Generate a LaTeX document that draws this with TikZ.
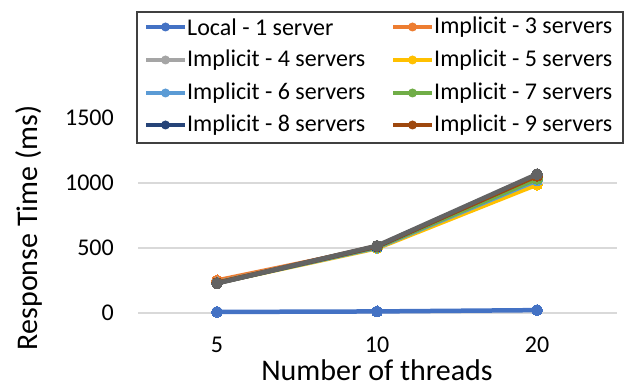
\documentclass[tikz,border=0pt]{standalone}
\usepackage{fontspec}
\setmainfont{Carlito}

\definecolor{gridgray}{HTML}{D9D9D9}
\definecolor{sLocal}{HTML}{4472C4}
\definecolor{sThree}{HTML}{ED7D31}
\definecolor{sFour}{HTML}{A5A5A5}
\definecolor{sFive}{HTML}{FFC000}
\definecolor{sSix}{HTML}{5B9BD5}
\definecolor{sSeven}{HTML}{70AD47}
\definecolor{sEight}{HTML}{264478}
\definecolor{sNine}{HTML}{9E480E}
\definecolor{sTen}{HTML}{636363}

\begin{document}
\begin{tikzpicture}[x=1pt, y=1pt,
    gridline/.style={draw=gridgray, line width=1.3pt},
    series/.style={draw=#1, line width=4.5pt, line join=round,
        mark=*, mark size=5.5pt, mark options={draw=#1, fill=#1, line width=0pt}},
    keyline/.style={draw=#1, line width=3.5pt},
    keydot/.style={circle, fill=#1, inner sep=0pt, minimum size=9pt},
    keytext/.style={anchor=west, font=\fontsize{24}{28}\selectfont, inner sep=0pt},
    ticklabel/.style={font=\fontsize{24}{28}\selectfont, inner sep=0pt, text depth=0pt},
    axistitle/.style={font=\fontsize{30}{34}\selectfont, inner sep=0pt, text depth=0pt}]
    \useasboundingbox (0,0) rectangle (627,387);

    % Griglia e dati (ms)
    \begin{scope}[shift={(0,74)}, y=0.13pt]
        \draw[gridline] (138,0) -- (617,0);
        \draw[gridline] (138,500) -- (617,500);
        \draw[gridline] (138,1000) -- (617,1000);
        \draw[gridline] (138,1500) -- (617,1500);

        \node[ticklabel, anchor=east] (y0) at (114,0) {0};
        \node[ticklabel, anchor=east] (y500) at (114,500) {500};
        \node[ticklabel, anchor=east] (y1000) at (114,1000) {1000};
        \node[ticklabel, anchor=east] (y1500) at (114,1500) {1500};

        % Serie
        \draw[series=sLocal] plot coordinates {(217,8) (377,12) (537,22)};
        \draw[series=sThree] plot coordinates {(217,250) (377,505) (537,1040)};
        \draw[series=sFour] plot coordinates {(217,236) (377,510) (537,1045)};
        \draw[series=sFive] plot coordinates {(217,232) (377,498) (537,988)};
        \draw[series=sSix] plot coordinates {(217,233) (377,503) (537,1020)};
        \draw[series=sSeven] plot coordinates {(217,232) (377,507) (537,1032)};
        \draw[series=sEight] plot coordinates {(217,230) (377,512) (537,1060)};
        \draw[series=sNine] plot coordinates {(217,232) (377,514) (537,1055)};
        \draw[series=sTen] plot coordinates {(217,228) (377,517) (537,1068)};
    \end{scope}

    % Assi
    \node[ticklabel] (x5) at (217,42) {5};
    \node[ticklabel] (x10) at (377,42) {10};
    \node[ticklabel] (x20) at (537,42) {20};
    \node[axistitle, anchor=base] (xtitle) at (377,6) {Number of threads};
    \node[axistitle, rotate=90] (ytitle) at (27,159) {Response Time (ms)};

    % Legenda
    \draw[fill=white, draw=black!75, line width=1.2pt] (137,244) rectangle (623,375);

    \draw[keyline=sLocal] (146,360) -- (185,360);
    \node[keydot=sLocal] (kLocal) at (165.5,360) {};
    \node[keytext] (tLocal) at (187,360) {Local - 1 server};
    \draw[keyline=sThree] (393,360) -- (432,360);
    \node[keydot=sThree] (kThree) at (412.5,360) {};
    \node[keytext] (tThree) at (434,360) {Implicit - 3 servers};

    \draw[keyline=sFour] (146,327) -- (185,327);
    \node[keydot=sFour] (kFour) at (165.5,327) {};
    \node[keytext] (tFour) at (187,327) {Implicit - 4 servers};
    \draw[keyline=sFive] (393,327) -- (432,327);
    \node[keydot=sFive] (kFive) at (412.5,327) {};
    \node[keytext] (tFive) at (434,327) {Implicit - 5 servers};

    \draw[keyline=sSix] (146,294) -- (185,294);
    \node[keydot=sSix] (kSix) at (165.5,294) {};
    \node[keytext] (tSix) at (187,294) {Implicit - 6 servers};
    \draw[keyline=sSeven] (393,294) -- (432,294);
    \node[keydot=sSeven] (kSeven) at (412.5,294) {};
    \node[keytext] (tSeven) at (434,294) {Implicit - 7 servers};

    \draw[keyline=sEight] (146,262) -- (185,262);
    \node[keydot=sEight] (kEight) at (165.5,262) {};
    \node[keytext] (tEight) at (187,262) {Implicit - 8 servers};
    \draw[keyline=sNine] (393,262) -- (432,262);
    \node[keydot=sNine] (kNine) at (412.5,262) {};
    \node[keytext] (tNine) at (434,262) {Implicit - 9 servers};
\end{tikzpicture}
\end{document}
